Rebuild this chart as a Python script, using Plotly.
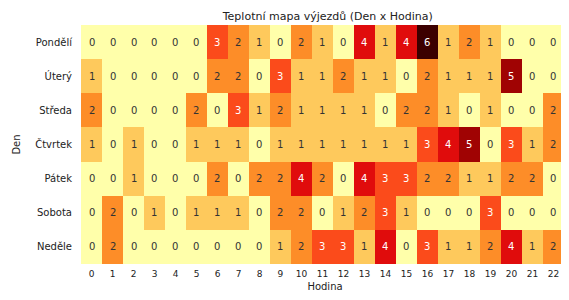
import plotly.graph_objects as go

days = ["Pondělí", "Úterý", "Středa", "Čtvrtek", "Pátek", "Sobota", "Neděle"]
hours = list(range(24))

mon = [0, 0, 0, 0, 0, 0, 3, 2, 1, 0, 2, 1, 0, 4, 1, 4, 6, 1, 2, 1, 0, 0, 0, 1]
tue = [1, 0, 0, 0, 0, 0, 2, 2, 0, 3, 1, 1, 2, 1, 1, 0, 2, 1, 1, 1, 5, 0, 0, 0]
wed = [2, 0, 0, 0, 0, 2, 0, 3, 1, 2, 1, 1, 1, 1, 0, 2, 2, 1, 0, 1, 0, 0, 2, 0]
thu = [1, 0, 1, 0, 0, 1, 1, 1, 0, 1, 1, 1, 1, 1, 1, 1, 3, 4, 5, 0, 3, 1, 2, 0]
fri = [0, 0, 1, 0, 0, 0, 2, 0, 2, 2, 4, 2, 0, 4, 3, 3, 2, 2, 1, 1, 2, 2, 0, 1]
sat = [0, 2, 0, 1, 0, 1, 1, 1, 0, 2, 2, 0, 1, 2, 3, 1, 0, 0, 0, 3, 0, 0, 0, 0]
sun = [0, 2, 0, 0, 0, 0, 0, 0, 0, 1, 2, 3, 3, 1, 4, 0, 3, 1, 1, 2, 4, 1, 2, 1]

z = [mon, tue, wed, thu, fri, sat, sun]

colors = ["#ffffaa", "#fec95c", "#fd8d28", "#fb4b1b", "#e00c0c", "#a00303", "#3c0000"]
zmax = 6
colorscale = [[i / zmax, c] for i, c in enumerate(colors)]

fig = go.Figure(go.Heatmap(
    z=z, x=hours, y=days,
    colorscale=colorscale, zmin=0, zmax=zmax,
    showscale=False, hoverinfo="skip",
))

annotations = []
for r, row in enumerate(z):
    for c, v in enumerate(row):
        annotations.append(dict(
            x=c, y=days[r], xref="x", yref="y", text=str(v), showarrow=False,
            font=dict(family="DejaVu Sans", size=10,
                      color="#ffffff" if v >= 3 else "#333333"),
        ))

fig.update_layout(
    width=561, height=292,
    margin=dict(l=73, r=0, t=17, b=36),
    paper_bgcolor="white", plot_bgcolor="white",
    title=dict(text="Teplotní mapa výjezdů (Den x Hodina)", x=0.57, xanchor="center",
               y=0.972, yanchor="middle",
               font=dict(family="DejaVu Sans", size=11, color="#222222")),
    font=dict(family="DejaVu Sans", size=10, color="#222222"),
    annotations=annotations,
    xaxis=dict(range=[-0.5, 22.74], tickmode="array", tickvals=hours,
               ticktext=[str(h) for h in hours], showgrid=False, zeroline=False,
               ticks="", ticklen=0, automargin=False, ticklabelstandoff=3,
               tickfont=dict(size=9),
               title=dict(text="Hodina", font=dict(size=10), standoff=4)),
    yaxis=dict(autorange="reversed", showgrid=False, zeroline=False, ticks="",
               automargin=False, ticklabelstandoff=8,
               title=dict(text="Den", font=dict(size=10), standoff=12)),
)

fig.write_html("out.html")
